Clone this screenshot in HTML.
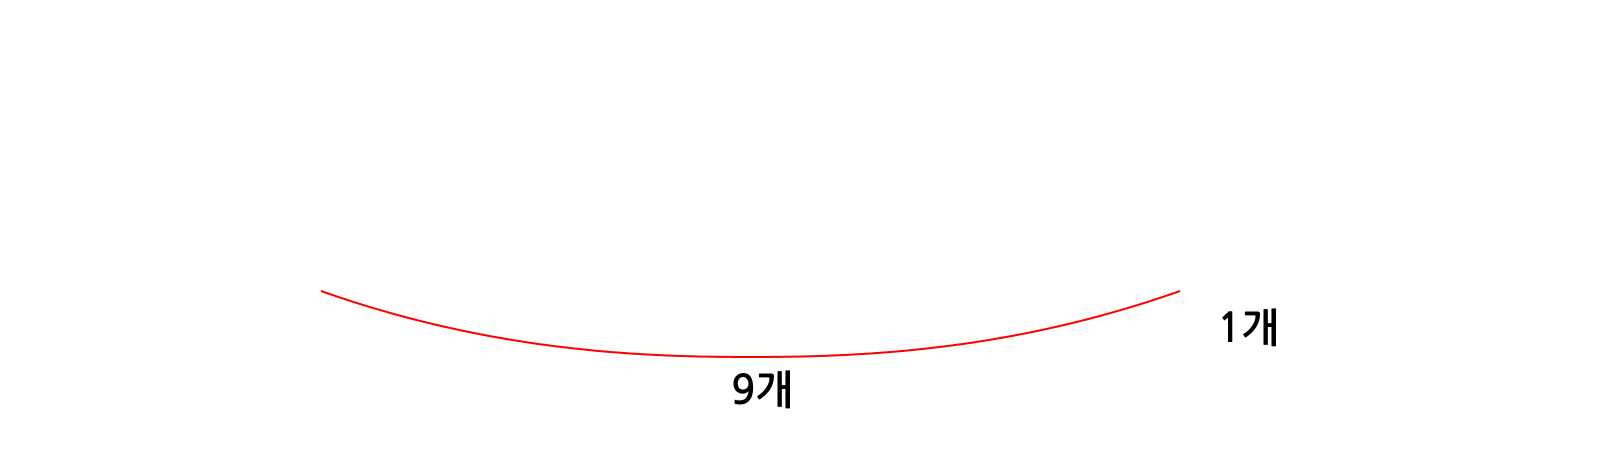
<!DOCTYPE html>
<html>
<head>
<meta charset="utf-8">
<style>
  html,body{margin:0;padding:0;background:#fff;}
  svg{display:block;}
  text{font-family:"NanumGothic","Noto Sans CJK KR",sans-serif;font-size:40px;font-weight:bold;fill:#000;}
</style>
</head>
<body>
<svg id="chart" width="1600" height="470" viewBox="0 0 1600 470" xmlns="http://www.w3.org/2000/svg">
  <path id="arc" d="" fill="none" stroke="#ff0000" stroke-width="2"/>
</svg>
<script>
const labels = ["9개", "1개"];
const counts = [9, 1];
const svg = document.getElementById('chart');
const ns = 'http://www.w3.org/2000/svg';
const x0 = 321, x1 = 1180, yEnd = 291, yBottom = 357, power = 2.3;
const cx = (x0 + x1) / 2, half = (x1 - x0) / 2;
let d = '';
for (let i = 0; i <= 200; i++) {
  const x = x0 + (x1 - x0) * i / 200;
  const u = Math.abs(x - cx) / half;
  const y = yBottom - (yBottom - yEnd) * Math.pow(u, power);
  d += (i ? 'L' : 'M') + x.toFixed(2) + ',' + y.toFixed(2);
}
document.getElementById('arc').setAttribute('d', d);
const pos = [[762, 404], [1248, 342]];
labels.forEach((l, i) => {
  const t = document.createElementNS(ns, 'text');
  
  
  t.setAttribute('x', pos[i][0]);
  t.setAttribute('y', pos[i][1]);
  t.setAttribute('text-anchor', 'middle');
  t.textContent = counts[i] + l.slice(String(counts[i]).length);
  svg.appendChild(t);
});
</script>
</body>
</html>
